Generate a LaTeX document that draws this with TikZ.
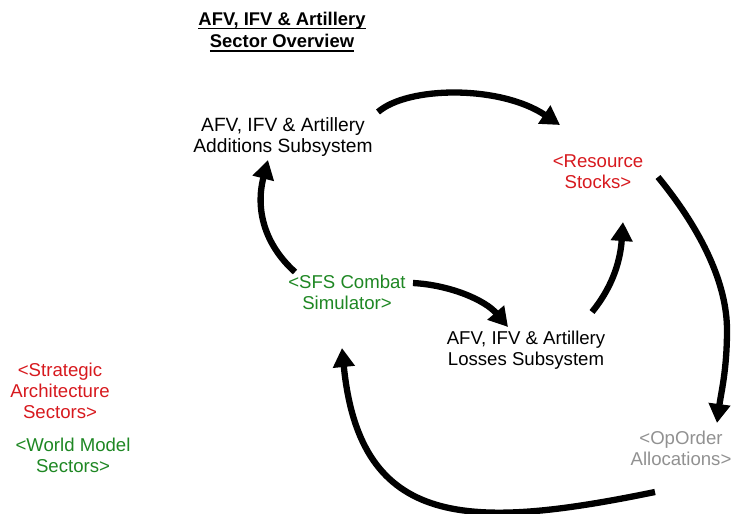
\documentclass[tikz,border=0pt]{standalone}
\usepackage{fontspec}
\setmainfont{Liberation Sans}
\usetikzlibrary{arrows.meta}
\definecolor{varred}{RGB}{215,25,30}
\definecolor{vargreen}{RGB}{30,135,35}
\definecolor{vargray}{RGB}{145,145,145}
\newcommand{\ttlline}[1]{\setbox0\hbox{#1}\leavevmode\rlap{\rule[-4pt]{\wd0}{1.7pt}}\box0}
\tikzset{
    lbl/.style={align=center,inner sep=0pt,font=\fontsize{18.6}{21}\selectfont},
    flow/.style={line width=6.3pt,-{Triangle[length=19pt,width=21pt]}},
}
\begin{document}
\begin{tikzpicture}[x=1pt,y=-1pt]
    \useasboundingbox (0,0) rectangle (732,514);
    \node[lbl,font=\fontsize{18.4}{22.5}\selectfont\bfseries] (title) at (282,32) {\ttlline{AFV, IFV \& Artillery}\\\ttlline{Sector Overview}};
    \node[lbl,font=\fontsize{19.2}{21}\selectfont] (add) at (283,137) {AFV, IFV \& Artillery\\Additions Subsystem};
    \node[lbl,text=varred] (res) at (598,172) {<Resource\\Stocks>};
    \node[lbl,text=vargreen] (sfs) at (347,292) {<SFS Combat\\Simulator>};
    \node[lbl] (loss) at (526,350) {AFV, IFV \& Artillery\\Losses Subsystem};
    \node[lbl,text=varred] (strat) at (60,391) {<Strategic\\Architecture\\Sectors>};
    \node[lbl,text=vargreen] (world) at (73,455) {<World Model\\Sectors>};
    \node[lbl,text=vargray] (opo) at (681,448) {<OpOrder\\Allocations>};
    % flows round the loop
    \draw[flow] ([shift={(95,-25)}]add.center) .. controls +(30,-26) and +(-60,-40) .. ([shift={(-38,-47)}]res.center);
    \draw[flow] ([shift={(60,5)}]res.center) .. controls +(45,55) and +(0,-45) .. ([shift={(46,-118)}]opo.center)
        .. controls +(0,40) and +(4,-30) .. ([shift={(36,-25)}]opo.center);
    \draw[flow] ([shift={(-26,44)}]opo.center) .. controls +(-185,38) and +(18,182) .. ([shift={(-5,56)}]sfs.center);
    \draw[flow] ([shift={(-52,-20)}]sfs.center) .. controls +(-30,-27) and +(-13,50) .. ([shift={(-15,23)}]add.center);
    \draw[flow] ([shift={(66,-9)}]sfs.center) .. controls +(37,2) and +(-23,-27) .. ([shift={(-18,-23)}]loss.center);
    \draw[flow] ([shift={(66,-38)}]loss.center) .. controls +(18,-22) and +(-3,43) .. ([shift={(25,50)}]res.center);
\end{tikzpicture}
\end{document}
